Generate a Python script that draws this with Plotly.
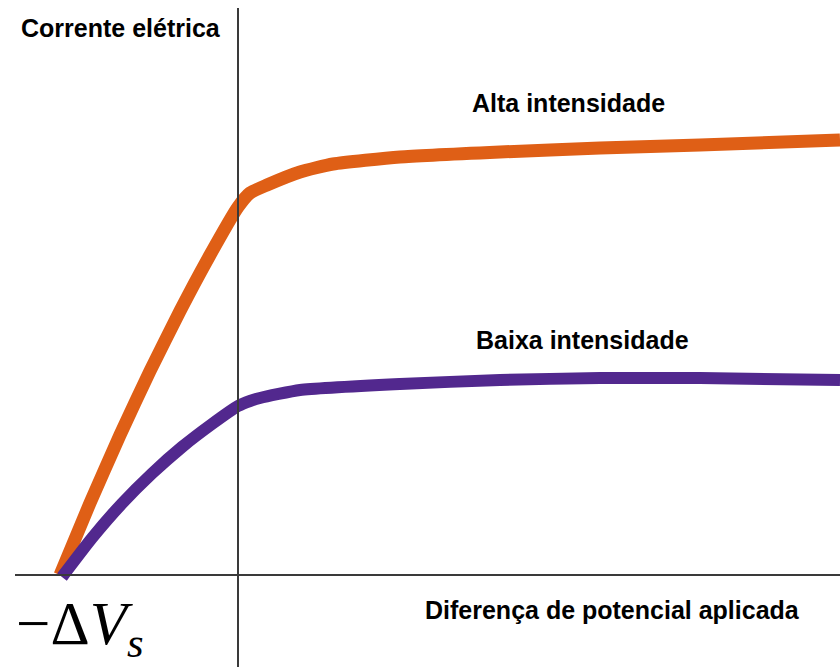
""" Corrente x diferença de potencial (efeito fotoelétrico) """
import plotly.graph_objects as go

# tensão aplicada (unidades arbitrárias, 0 = eixo vertical) e corrente
v_alta = [-178, -148, -118, -88, -58, -28, 0, 12, 29, 62, 95, 162, 262, 362, 462, 602]
i_alta = [0, 72, 140, 204, 264, 320, 368, 382, 390, 403, 411, 418, 423, 427, 430, 435]

v_baixa = [-176, -146, -116, -86, -56, -26, 0, 12, 22, 62, 162, 262, 362, 462, 602]
i_baixa = [-2, 37, 71.5, 101.5, 128, 151, 169, 174, 177, 185, 191, 195, 197, 197, 195]

x_range = [-238, 602]
y_range = [-92, 575]

fig = go.Figure()
fig.add_trace(go.Scatter(x=v_alta, y=i_alta, mode='lines',
                         line=dict(color='#DF5F16', width=13, shape='spline', smoothing=0.5),
                         hoverinfo='skip'))
fig.add_trace(go.Scatter(x=v_baixa, y=i_baixa, mode='lines',
                         line=dict(color='#52288E', width=12, shape='spline', smoothing=0.5),
                         hoverinfo='skip'))

# eixos
fig.add_shape(type='line', x0=0, x1=0, y0=y_range[0], y1=567,
              line=dict(color='#3a3a3a', width=2))
fig.add_shape(type='line', x0=-223, x1=x_range[1], y0=0, y1=0,
              line=dict(color='#3a3a3a', width=2))

txt = dict(family='Liberation Sans, Arial', size=25, color='black')
fig.add_annotation(x=-117, y=547, text='<b>Corrente elétrica</b>', showarrow=False, font=txt)
fig.add_annotation(x=330, y=472, text='<b>Alta intensidade</b>', showarrow=False, font=txt)
fig.add_annotation(x=344, y=235, text='<b>Baixa intensidade</b>', showarrow=False, font=txt)
fig.add_annotation(x=374, y=-35, text='<b>Diferença de potencial aplicada</b>',
                   showarrow=False, font=txt)
fig.add_annotation(x=-158, y=-53, text='−Δ<i>V</i><sub><i>s</i></sub>', showarrow=False,
                   font=dict(family='Liberation Serif, Times New Roman', size=61, color='black'))

fig.update_layout(
    width=840, height=667,
    margin=dict(l=0, r=0, t=0, b=0),
    plot_bgcolor='white', paper_bgcolor='white',
    showlegend=False,
)
fig.update_xaxes(range=x_range, visible=False)
fig.update_yaxes(range=y_range, visible=False)
fig.write_html("out.html", config={'displayModeBar': False},
               post_script="document.body.style.margin='0px';")
